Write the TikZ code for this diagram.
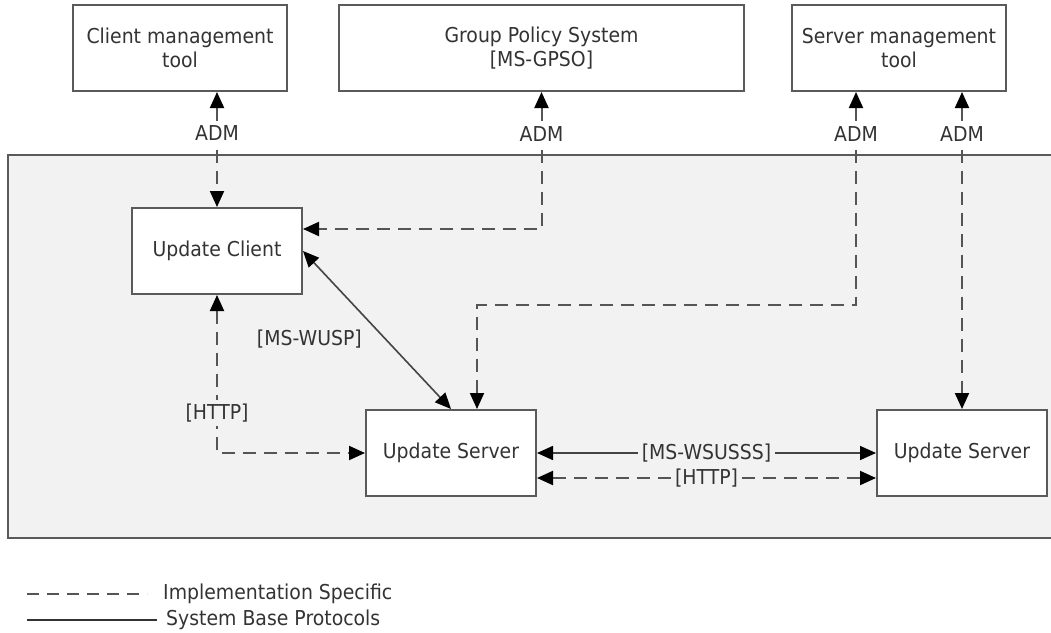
\documentclass[tikz,border=0pt]{standalone}
\usepackage{fontspec}
\setmainfont{DejaVu Sans}[FakeStretch=0.92]
\usetikzlibrary{arrows.meta}
\definecolor{panel}{HTML}{F2F2F2}
\definecolor{boxline}{HTML}{5A5A5A}
\definecolor{wire}{HTML}{555555}
\definecolor{ink}{HTML}{333333}
\begin{document}
\begin{tikzpicture}[x=1pt,y=-1pt,
  font=\fontsize{20.5}{24.5}\selectfont, text=ink,
  box/.style={draw=boxline, fill=white, line width=2pt,
    minimum width=#1, minimum height=86pt, inner sep=0pt, align=center},
  box/.default=170pt,
  impl/.style={draw=wire, line width=2pt, dash pattern=on 13pt off 8pt,
    {Triangle[length=16pt,width=14pt,color=black]}-{Triangle[length=16pt,width=14pt,color=black]}},
  base/.style={draw=wire!80!black, line width=1.6pt,
    {Triangle[length=16pt,width=14pt,color=black]}-{Triangle[length=16pt,width=14pt,color=black]}},
  lbl/.style={fill=panel, inner sep=4pt},
  admlbl/.style={fill=white, inner sep=3pt},
  legimpl/.style={draw=wire, line width=1.6pt, dash pattern=on 12pt off 8pt},
  legbase/.style={draw=black!80, line width=1.4pt},
]
\useasboundingbox (0,0) rectangle (1051,632);

% shaded region holding the update components
\fill[panel] (8,155) rectangle (1060,538);
\draw[boxline, line width=2pt] (1060,155) -- (8,155) -- (8,538) -- (1060,538);

% external tools
\node[box=214pt] (cmt) at (180,48) {Client management\\tool};
\node[box=405pt] (gps) at (541.5,48) {Group Policy System\\{[MS-GPSO]}};
\node[box=214pt] (smt) at (899,48) {Server management\\tool};

% update components
\node[box] (uc)  at (217,251) {Update Client};
\node[box] (us1) at (451,453) {Update Server};
\node[box] (us2) at (962,453) {Update Server};

% anchor points for the routed connectors
\coordinate (ucin)  at ([yshift=22pt]uc.east);
\coordinate (smtl)  at ([xshift=-43pt]smt.south);
\coordinate (smtr)  at ([xshift=63pt]smt.south);
\coordinate (us1in) at ([xshift=26pt]us1.north);
\coordinate (jog)   at ([yshift=104pt]us1in);
\coordinate (h1)    at ([yshift=-25pt]us1.east);
\coordinate (h2)    at ([yshift=-25pt]us2.west);

% ADM links
\draw[impl] (uc.north |- cmt.south) -- node[admlbl, pos=0.36] {ADM} (uc.north);
\draw[impl] (gps.south) -- node[admlbl, pos=0.304] {ADM} (ucin -| gps.south) -- (ucin);
\draw[impl] (smtl) -- node[admlbl, pos=0.195] {ADM} (smtl |- jog) -- (jog) -- (us1in);
\draw[impl] (smtr) -- node[admlbl, pos=0.131] {ADM} (us2.north);

% client to server
\draw[base] (uc.east) -- node[pos=0.56, left=20pt] {[MS-WUSP]} (us1.north);
\draw[impl] (uc.south) |- node[lbl, pos=0.374] {[HTTP]} (us1.west);

% server to server
\draw[base] (us1.east) -- node[lbl] {[MS-WSUSSS]} (us2.west);
\draw[impl] (h1) -- node[lbl, inner sep=2pt] {[HTTP]} (h2);

% legend
\node[anchor=west, inner sep=0pt] (leg1) at (163,594) {Implementation Specific};
\node[anchor=west, inner sep=0pt] (leg2) at (166,620) {System Base Protocols};
\coordinate (leg1s) at (27,594);
\coordinate (leg2s) at (27,620);
\draw[legimpl] (leg1s) -- ([xshift=-16pt]leg1.west);
\draw[legbase] (leg2s) -- ([xshift=-9pt]leg2.west);
\end{tikzpicture}
\end{document}
